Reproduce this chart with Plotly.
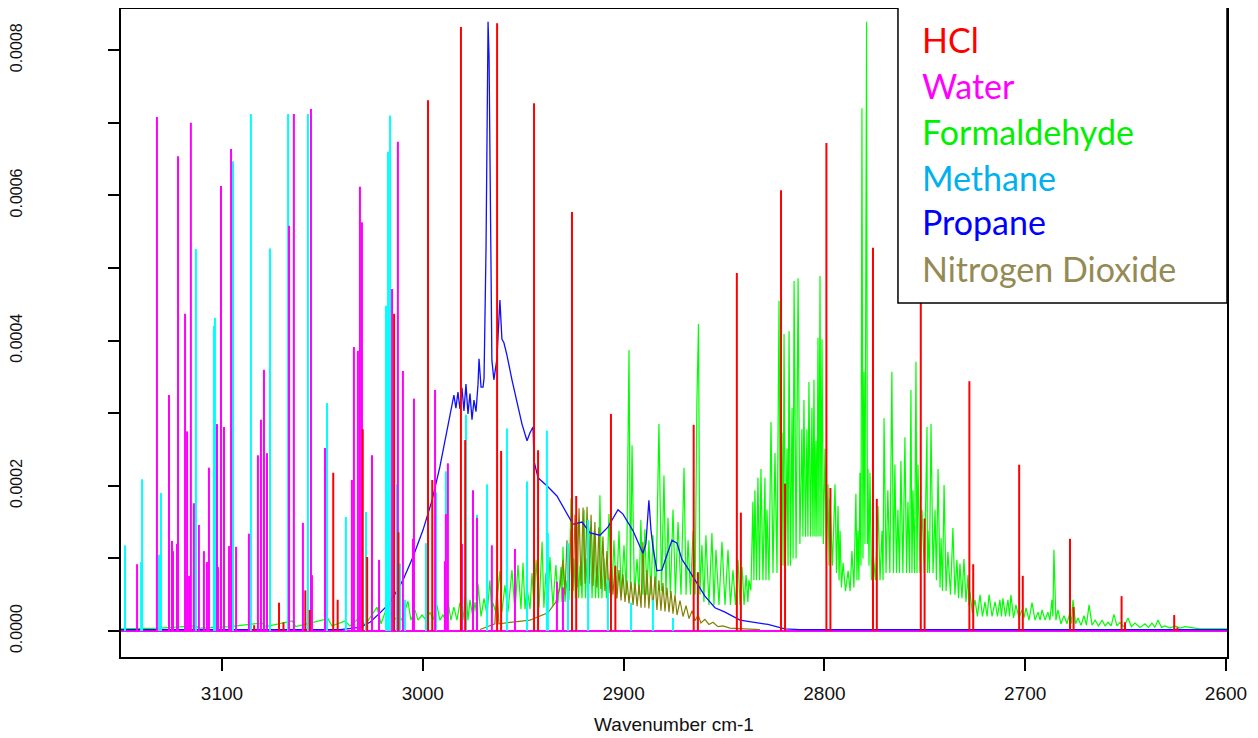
import plotly.graph_objects as go

ABS_UNIT = 1e-4  # absorbance values below are given in units of 1e-4

# ---------------- HCl (H35Cl + H37Cl lines) ----------------
hcl_wn = [3084.0, 3071.6, 3058.5, 3044.6, 3029.9, 3014.3, 2997.4, 2981.0, 2963.0, 2944.6,
          2925.7, 2906.3, 2865.1, 2843.6, 2821.6, 2799.0, 2775.8, 2752.0, 2727.8, 2703.0,
          2677.7, 2652.0, 2625.8,
          3069.4, 3056.3, 3042.4, 3027.7, 3012.1, 2995.3, 2978.9, 2961.0, 2942.6, 2923.6,
          2904.1, 2863.0, 2841.6, 2819.6, 2797.0, 2773.9, 2750.1, 2725.9, 2701.2, 2675.9,
          2650.3, 2624.2]
hcl_abs = [0.08, 0.39, 0.56, 2.18, 2.78, 4.37, 7.31, 8.32, 8.37, 7.27,
           5.77, 2.99, 2.84, 4.93, 6.07, 6.72, 5.28, 5.60, 3.44, 2.29,
           1.27, 0.48, 0.22,
           0.12, 0.29, 0.43, 1.02, 1.36, 2.08, 2.63, 2.48, 2.49, 1.86,
           0.90, 0.81, 1.63, 2.03, 1.97, 1.82, 1.55, 0.92, 0.76, 0.33,
           0.12, 0.05]

# ---------------- Water ----------------
water_wn = [3142.3, 3132.4, 3126.4, 3124.9, 3124.4, 3122.4, 3121.9, 3118.4, 3117.4, 3116.4,
            3115.5, 3114.0, 3111.5, 3109.0, 3107.5, 3106.5, 3102.5, 3102.0, 3100.5, 3099.0,
            3096.5, 3095.5, 3093.0, 3086.6, 3082.1, 3080.6, 3079.1, 3077.6, 3066.6, 3064.2,
            3059.7, 3055.7, 3055.2, 3048.7, 3035.3, 3034.3, 3032.3, 3031.3, 3030.3, 3025.3,
            3021.8, 3015.3, 3012.4, 3009.9, 3004.9, 3004.4, 2993.9, 2989.0, 2988.5, 2987.5,
            2980.5, 2975.0, 2973.0, 2965.6, 2954.1, 2933.2, 2930.2]
water_abs = [0.92, 7.08, 3.25, 1.24, 1.10, 1.20, 6.54, 4.37, 2.75, 0.76,
             7.00, 1.76, 1.46, 1.10, 0.95, 2.25, 2.85, 0.88, 6.13, 2.81,
             1.17, 6.64, 1.16, 1.34, 2.42, 2.91, 3.60, 2.45, 5.58, 7.12,
             1.49, 7.19, 0.77, 2.52, 2.08, 3.91, 3.86, 6.12, 5.63, 2.42,
             0.98, 4.71, 6.74, 3.58, 1.27, 3.20, 3.32, 0.96, 1.61, 2.31,
             1.20, 1.94, 1.56, 1.18, 1.13, 0.68, 0.60]

# ---------------- Methane ----------------
methane_wn = [3148.3, 3140.3, 3139.8, 3131.4, 3130.4, 3113.0, 3104.0, 3103.5, 3094.5, 3085.6,
              3076.1, 3067.1, 3057.2, 3047.7, 3038.3, 3028.3, 3018.3, 3017.3, 3016.3, 3012.9,
              3011.4, 3008.9, 2998.4, 2993.4, 2988.5, 2978.5, 2973.0, 2968.0, 2958.1, 2948.1,
              2938.2, 2937.7, 2927.7, 2917.7, 2907.8, 2896.3, 2885.4, 2875.4]
methane_abs = [1.18, 0.95, 2.09, 1.05, 1.90, 5.26, 4.20, 4.31, 6.47, 7.12,
               5.27, 7.12, 7.12, 3.14, 1.57, 1.64, 4.48, 6.60, 7.10, 2.02,
               0.93, 0.43, 1.21, 1.91, 2.20, 2.98, 1.60, 2.02, 2.79, 2.06,
               2.76, 1.35, 1.21, 1.53, 0.70, 0.39, 0.43, 0.18]

# ---------------- Propane (continuous trace) ----------------
propane_wn = [3150.3, 3041.2, 3031.3, 3026.3, 3021.3, 3016.3, 3009.9, 3004.9, 2999.9, 2995.4,
              2991.5, 2987.5, 2985.5, 2984.5, 2983.5, 2982.5, 2981.5, 2980.5, 2979.5, 2978.5,
              2977.5, 2976.5, 2975.5, 2974.5, 2973.5, 2972.5, 2972.0, 2971.0, 2970.0, 2969.5,
              2968.5, 2968.0, 2967.5, 2967.0, 2966.5, 2966.0, 2965.6, 2964.6, 2963.1, 2961.6,
              2960.6, 2959.6, 2958.1, 2955.6, 2953.1, 2950.6, 2948.1, 2946.6, 2945.1, 2944.6,
              2942.6, 2938.2, 2933.2, 2928.2, 2925.2, 2920.7, 2916.7, 2911.8, 2907.8, 2902.8,
              2900.3, 2895.3, 2890.4, 2888.9, 2887.4, 2886.4, 2885.4, 2883.4, 2880.9, 2878.4,
              2875.9, 2873.4, 2871.0, 2868.4, 2864.5, 2859.5, 2854.5, 2849.5, 2842.0, 2828.1,
              2819.7, 2812.2, 2599.5]
propane_abs = [0.02, 0.02, 0.05, 0.12, 0.25, 0.39, 0.70, 1.02, 1.39, 1.80,
               2.26, 2.81, 3.11, 3.25, 3.07, 3.29, 3.06, 3.35, 3.03, 3.40,
               2.99, 3.27, 2.91, 3.18, 3.02, 3.40, 3.75, 3.36, 3.36, 3.48,
               5.30, 7.60, 8.39, 7.90, 5.95, 4.00, 3.73, 3.46, 3.75, 4.56,
               4.02, 3.97, 3.80, 3.46, 3.13, 2.85, 2.62, 2.73, 2.81, 2.34,
               2.11, 2.00, 1.86, 1.61, 1.47, 1.50, 1.35, 1.32, 1.43, 1.67,
               1.61, 1.38, 1.07, 1.20, 1.80, 1.40, 1.16, 0.83, 0.84, 1.05,
               1.25, 1.21, 0.99, 0.88, 0.70, 0.48, 0.32, 0.26, 0.15, 0.09,
               0.03, 0.02, 0.02]

# ---------------- Nitrogen dioxide (continuous trace) ----------------
no2_wn = [2971.5, 2964.1, 2963.1, 2962.1, 2946.6, 2937.7, 2933.7, 2931.7, 2930.2, 2929.2,
          2928.2, 2927.2, 2926.2, 2925.2, 2924.2, 2923.2, 2922.2, 2921.2, 2920.2, 2919.2,
          2918.2, 2917.2, 2916.2, 2915.2, 2914.3, 2913.3, 2912.3, 2911.3, 2910.3, 2909.3,
          2908.3, 2907.3, 2906.3, 2905.3, 2904.3, 2903.3, 2902.3, 2901.3, 2900.3, 2899.3,
          2898.3, 2897.3, 2896.3, 2895.3, 2894.3, 2893.3, 2892.3, 2891.3, 2890.4, 2889.4,
          2888.4, 2887.4, 2886.4, 2885.4, 2884.4, 2883.4, 2882.4, 2881.4, 2880.4, 2879.4,
          2878.4, 2877.4, 2876.4, 2875.4, 2874.4, 2873.4, 2871.9, 2870.4, 2868.9, 2867.4,
          2865.9, 2864.4, 2862.9, 2861.5, 2859.5, 2857.5, 2855.5, 2853.0, 2850.5, 2847.0,
          2839.6, 2832.1]
no2_abs = [0.02, 0.10, 0.60, 0.10, 0.15, 0.25, 0.40, 0.60, 0.98, 0.50,
           1.25, 0.55, 1.40, 0.55, 1.60, 0.60, 1.69, 0.62, 1.70, 0.65,
           1.71, 0.65, 1.60, 0.62, 1.50, 0.60, 1.43, 0.58, 1.30, 0.55,
           1.10, 0.52, 0.95, 0.50, 0.88, 0.45, 0.84, 0.42, 0.78, 0.40,
           0.70, 0.38, 0.68, 0.36, 0.66, 0.34, 0.64, 0.32, 1.23, 0.32,
           0.84, 0.31, 0.76, 0.30, 0.75, 0.29, 0.70, 0.28, 0.66, 0.27,
           0.60, 0.26, 0.55, 0.24, 0.50, 0.22, 0.42, 0.20, 0.35, 0.17,
           0.28, 0.14, 0.22, 0.11, 0.16, 0.09, 0.12, 0.06, 0.07, 0.04,
           0.03, 0.02]

# ---------------- Formaldehyde (continuous trace) ----------------
hcho_wn = [3150.3, 3130.9, 3113.5, 3111.0, 3096.0, 3080.1, 3078.1, 3065.1, 3063.2, 3047.2,
           3045.2, 3038.7, 3036.3, 3031.3, 3028.8, 3022.8, 3020.8, 3016.8, 3014.8, 3012.4,
           3010.4, 3007.4, 3005.9, 3003.9, 3002.4, 3000.4, 2998.4, 2996.4, 2994.9, 2993.0,
           2991.5, 2990.0, 2988.5, 2987.5, 2986.0, 2984.5, 2983.0, 2981.5, 2980.0, 2978.5,
           2977.5, 2976.5, 2975.0, 2974.0, 2973.0, 2972.5, 2971.0, 2969.5, 2968.0, 2966.6,
           2965.6, 2965.1, 2963.6, 2961.6, 2960.6, 2959.1, 2957.6, 2955.6, 2954.1, 2952.6,
           2951.1, 2950.1, 2949.1, 2948.1, 2946.6, 2945.6, 2944.6, 2943.6, 2942.1, 2940.6,
           2939.7, 2938.7, 2937.7, 2936.7, 2935.2, 2933.7, 2932.7, 2931.2, 2930.7, 2930.2,
           2929.2, 2928.2, 2927.2, 2926.2, 2925.5, 2924.7, 2924.0, 2923.2, 2922.5, 2921.7,
           2920.7, 2919.7, 2919.0, 2918.2, 2917.5, 2916.7, 2915.7, 2914.7, 2914.0, 2913.2,
           2912.5, 2911.8, 2910.8, 2909.8, 2908.5, 2907.3, 2906.0, 2904.8, 2903.6, 2902.3,
           2901.1, 2899.8, 2898.6, 2897.3, 2896.6, 2895.8, 2894.6, 2893.3, 2892.3, 2891.4,
           2890.4, 2889.4, 2888.4, 2887.4, 2886.4, 2885.4, 2883.9, 2882.4, 2881.1, 2879.9,
           2878.9, 2877.9, 2876.7, 2875.4, 2874.2, 2872.9, 2871.4, 2869.9, 2868.9, 2867.9,
           2866.7, 2865.4, 2864.4, 2863.5, 2862.7, 2862.0, 2861.0, 2860.0, 2859.0, 2857.5,
           2856.0, 2855.0, 2854.0, 2852.5, 2851.0, 2849.5, 2848.0, 2846.8, 2845.5, 2844.3,
           2843.0, 2842.0, 2841.0, 2840.0, 2839.0, 2838.1, 2837.6, 2836.6, 2835.6, 2835.1,
           2834.6, 2833.8, 2833.1, 2832.3, 2831.6, 2830.6, 2829.6, 2829.1, 2828.6, 2827.6,
           2826.6, 2825.6, 2824.6, 2823.6, 2822.6, 2821.9, 2821.1, 2820.6, 2820.1, 2819.4,
           2818.6, 2818.1, 2817.6, 2816.9, 2816.1, 2815.6, 2815.1, 2814.1, 2813.1, 2812.2,
           2811.2, 2810.7, 2810.2, 2809.4, 2808.7, 2808.2, 2807.7, 2806.9, 2806.2, 2805.7,
           2805.2, 2804.7, 2804.2, 2803.7, 2803.2, 2802.7, 2802.2, 2801.7, 2801.2, 2800.5,
           2799.7, 2799.0, 2798.2, 2797.7, 2797.2, 2796.0, 2794.7, 2794.0, 2793.2, 2792.7,
           2792.2, 2791.5, 2790.7, 2789.5, 2788.2, 2787.2, 2786.3, 2785.3, 2784.3, 2783.8,
           2783.3, 2782.8, 2782.3, 2781.8, 2781.3, 2780.8, 2780.3, 2779.8, 2779.0, 2778.6,
           2778.3, 2777.8, 2777.3, 2776.5, 2775.8, 2774.6, 2773.3, 2772.3, 2771.3, 2770.8,
           2770.3, 2769.3, 2768.4, 2767.4, 2766.4, 2765.6, 2764.9, 2764.1, 2763.4, 2762.6,
           2761.9, 2760.9, 2759.9, 2759.1, 2758.4, 2757.6, 2756.9, 2756.4, 2755.9, 2755.1,
           2754.4, 2753.9, 2753.4, 2752.4, 2751.4, 2750.2, 2748.9, 2748.7, 2748.4, 2747.7,
           2746.9, 2745.9, 2744.9, 2744.2, 2743.4, 2742.4, 2741.9, 2741.2, 2740.4, 2739.4,
           2738.5, 2737.2, 2736.0, 2735.0, 2734.0, 2733.2, 2732.5, 2731.5, 2730.5, 2729.5,
           2728.5, 2728.0, 2727.5, 2726.3, 2725.0, 2723.8, 2722.5, 2721.3, 2720.0, 2719.0,
           2718.0, 2716.5, 2715.0, 2713.8, 2712.6, 2711.8, 2711.1, 2709.8, 2708.6, 2707.8,
           2707.1, 2705.8, 2704.6, 2703.1, 2701.6, 2700.6, 2699.6, 2698.1, 2696.6, 2695.1,
           2693.6, 2692.6, 2691.6, 2690.1, 2688.7, 2687.7, 2686.7, 2686.2, 2685.7, 2684.7,
           2683.7, 2682.2, 2680.7, 2679.2, 2677.7, 2676.9, 2676.2, 2674.9, 2673.7, 2672.2,
           2670.7, 2669.5, 2668.2, 2666.7, 2665.2, 2663.5, 2661.7, 2660.2, 2658.7, 2657.2,
           2655.8, 2654.3, 2652.8, 2650.8, 2648.8, 2647.1, 2645.3, 2642.8, 2640.3, 2638.6,
           2636.9, 2635.4, 2633.9, 2632.1, 2630.4, 2627.9, 2625.4, 2622.9, 2620.4, 2613.0,
           2599.5]
hcho_abs = [0.03, 0.04, 0.07, 0.04, 0.06, 0.11, 0.06, 0.14, 0.06, 0.17,
            0.07, 0.14, 0.07, 0.19, 0.08, 0.33, 0.10, 0.41, 0.12, 0.22,
            0.15, 0.41, 0.15, 0.29, 0.15, 0.22, 0.15, 0.26, 0.15, 0.36,
            0.15, 0.22, 0.15, 0.43, 0.15, 0.33, 0.15, 0.39, 0.15, 0.56,
            0.15, 0.43, 0.18, 0.40, 0.18, 0.65, 0.20, 0.45, 0.22, 0.70,
            0.25, 0.39, 0.25, 0.83, 0.26, 0.63, 0.26, 0.84, 0.26, 0.91,
            0.30, 0.94, 0.30, 0.60, 0.30, 0.80, 0.30, 0.98, 0.32, 1.23,
            0.32, 0.80, 0.35, 1.02, 0.35, 0.91, 0.38, 0.88, 0.40, 1.16,
            0.40, 0.70, 0.43, 1.83, 0.45, 1.00, 0.45, 1.50, 0.45, 0.90,
            0.45, 1.67, 0.45, 1.00, 0.45, 1.43, 0.45, 1.38, 0.45, 0.90,
            0.45, 1.87, 0.45, 1.00, 0.45, 1.61, 0.45, 1.25, 0.45, 1.38,
            0.50, 1.18, 0.50, 3.87, 0.60, 2.56, 0.50, 0.99, 0.50, 1.53,
            0.50, 1.40, 0.50, 1.25, 0.50, 1.32, 0.50, 2.85, 0.55, 2.14,
            0.50, 1.56, 0.50, 1.67, 0.50, 1.50, 0.50, 2.25, 0.50, 1.25,
            0.50, 1.38, 0.50, 3.15, 4.23, 0.50, 1.18, 0.40, 1.32, 0.36,
            1.35, 0.36, 1.12, 0.36, 1.23, 0.36, 1.12, 0.36, 0.84, 0.36,
            0.98, 0.36, 0.88, 0.36, 0.77, 0.40, 0.70, 0.56, 1.78, 0.70,
            1.94, 0.70, 2.11, 0.70, 2.23, 0.70, 2.11, 0.70, 1.67, 0.70,
            2.88, 0.80, 2.45, 0.80, 4.55, 0.90, 2.73, 0.90, 4.09, 0.90,
            2.51, 0.90, 4.13, 0.90, 3.07, 1.00, 4.82, 1.00, 4.86, 1.20,
            2.78, 1.30, 3.18, 1.30, 2.78, 1.30, 3.43, 1.30, 3.07, 1.30,
            3.46, 1.30, 2.62, 1.30, 4.04, 1.30, 4.89, 1.30, 4.02, 1.20,
            2.51, 1.00, 2.02, 0.90, 1.83, 0.90, 2.02, 0.80, 1.72, 0.70,
            1.38, 0.60, 0.94, 0.55, 0.83, 0.55, 1.10, 0.60, 1.89, 0.70,
            1.38, 0.70, 2.18, 0.90, 7.20, 1.00, 3.57, 1.20, 8.39, 1.20,
            2.23, 0.90, 2.18, 0.70, 1.10, 0.70, 1.72, 0.70, 1.38, 0.70,
            2.93, 0.80, 1.94, 0.80, 3.57, 0.80, 2.29, 0.80, 1.67, 0.80,
            2.34, 0.80, 2.67, 0.80, 1.78, 0.80, 3.32, 0.80, 1.94, 0.80,
            3.71, 0.80, 2.29, 0.80, 1.67, 0.80, 2.81, 0.80, 1.38, 0.80,
            2.85, 0.80, 1.67, 0.70, 2.23, 0.60, 1.28, 0.55, 2.01, 0.55,
            1.09, 0.50, 1.42, 0.50, 0.98, 0.45, 0.93, 0.45, 0.99, 0.40,
            0.77, 0.35, 0.54, 0.25, 0.43, 0.20, 0.50, 0.20, 0.40, 0.20,
            0.50, 0.20, 0.40, 0.20, 0.43, 0.20, 0.45, 0.20, 0.43, 0.20,
            0.50, 0.18, 0.36, 0.18, 0.29, 0.18, 0.32, 0.15, 0.39, 0.15,
            0.26, 0.15, 0.29, 0.15, 0.26, 0.15, 0.43, 0.20, 1.12, 0.15,
            0.29, 0.10, 0.21, 0.10, 0.26, 0.10, 0.43, 0.10, 0.18, 0.08,
            0.21, 0.08, 0.36, 0.08, 0.15, 0.07, 0.15, 0.07, 0.12, 0.07,
            0.23, 0.07, 0.12, 0.06, 0.18, 0.06, 0.11, 0.05, 0.10, 0.05,
            0.11, 0.05, 0.15, 0.05, 0.07, 0.04, 0.07, 0.04, 0.06, 0.03,
            0.03]

x_tick_values = [3100, 3000, 2900, 2800, 2700, 2600]
y_tick_values = [0.0, 0.0001, 0.0002, 0.0003, 0.0004, 0.0005, 0.0006, 0.0007, 0.0008]
y_tick_labels = ["0.0000", "", "0.0002", "", "0.0004", "", "0.0006", "", "0.0008"]

legend_names = ["HCl", "Water", "Formaldehyde", "Methane", "Propane", "Nitrogen Dioxide"]
legend_colors = ["#FF0000", "#FF00FF", "#00F000", "#00B0F0", "#0000FF", "#948A54"]


def sticks(wn, ab):
    xs, ys = [], []
    for w, a in zip(wn, ab):
        xs += [w, w, None]
        ys += [0.0, a * ABS_UNIT, None]
    return xs, ys


def scaled(ab):
    return [a * ABS_UNIT for a in ab]


fig = go.Figure()

fig.add_trace(go.Scatter(x=hcho_wn, y=scaled(hcho_abs), mode="lines",
                         line=dict(color="#00FF00", width=1.2), name="Formaldehyde"))
fig.add_trace(go.Scatter(x=no2_wn, y=scaled(no2_abs), mode="lines",
                         line=dict(color="#808000", width=1.2), name="Nitrogen Dioxide"))
fig.add_trace(go.Scatter(x=propane_wn, y=scaled(propane_abs), mode="lines",
                         line=dict(color="#1010FF", width=1.3), name="Propane"))
mx, my = sticks(methane_wn, methane_abs)
fig.add_trace(go.Scatter(x=mx, y=my, mode="lines",
                         line=dict(color="#00FFFF", width=2), name="Methane"))
wx, wy = sticks(water_wn, water_abs)
fig.add_trace(go.Scatter(x=wx, y=wy, mode="lines",
                         line=dict(color="#FF00FF", width=2), name="Water"))
hx, hy = sticks(hcl_wn, hcl_abs)
fig.add_trace(go.Scatter(x=hx, y=hy, mode="lines",
                         line=dict(color="#FF0000", width=2), name="HCl"))

axis_font = dict(family="Liberation Sans, Arial, sans-serif", size=19, color="#111111")

# the page body has an 8 px margin, so the figure is 8 px smaller than the window
fig.update_layout(
    width=1250, height=730,
    margin=dict(l=113, r=31, t=1, b=81),
    plot_bgcolor="white", paper_bgcolor="white",
    showlegend=False,
    xaxis=dict(
        range=[3150.3, 2599.5], tickvals=x_tick_values, automargin=False,
        ticks="outside", ticklen=12, tickwidth=1.5, tickcolor="#000000",
        showline=True, mirror=True, linecolor="#000000", linewidth=1.5,
        showgrid=False, zeroline=False, tickfont=axis_font,
        ticklabelstandoff=6,
        title=dict(text="Wavenumber cm-1", font=axis_font, standoff=15),
    ),
    yaxis=dict(
        range=[-0.0000358, 0.0008567], tickvals=y_tick_values, ticktext=y_tick_labels,
        automargin=False,
        tickangle=-90, ticks="outside", ticklen=11, tickwidth=1.5, tickcolor="#000000",
        showline=True, mirror=True, linecolor="#000000", linewidth=1.5,
        showgrid=False, zeroline=True, zerolinecolor="#FF00FF", zerolinewidth=2,
        tickfont=dict(family="Liberation Sans, Arial, sans-serif", size=16, color="#111111"),
        ticklabelstandoff=80,
    ),
)

# legend box
fig.add_shape(type="rect", xref="paper", yref="paper",
              x0=0.7025, x1=1.0, y0=0.5463, y1=1.0031,
              fillcolor="white", line=dict(color="#000000", width=1.5), layer="above")

legend_y = [0.9522, 0.8812, 0.8117, 0.7407, 0.6713, 0.6003]
for name, color, yy in zip(legend_names, legend_colors, legend_y):
    fig.add_annotation(x=0.7224, y=yy, xref="paper", yref="paper",
                       text=name, showarrow=False, xanchor="left", yanchor="middle",
                       font=dict(family="Lato, Carlito, sans-serif", size=34, color=color))

fig.write_html("out.html")
